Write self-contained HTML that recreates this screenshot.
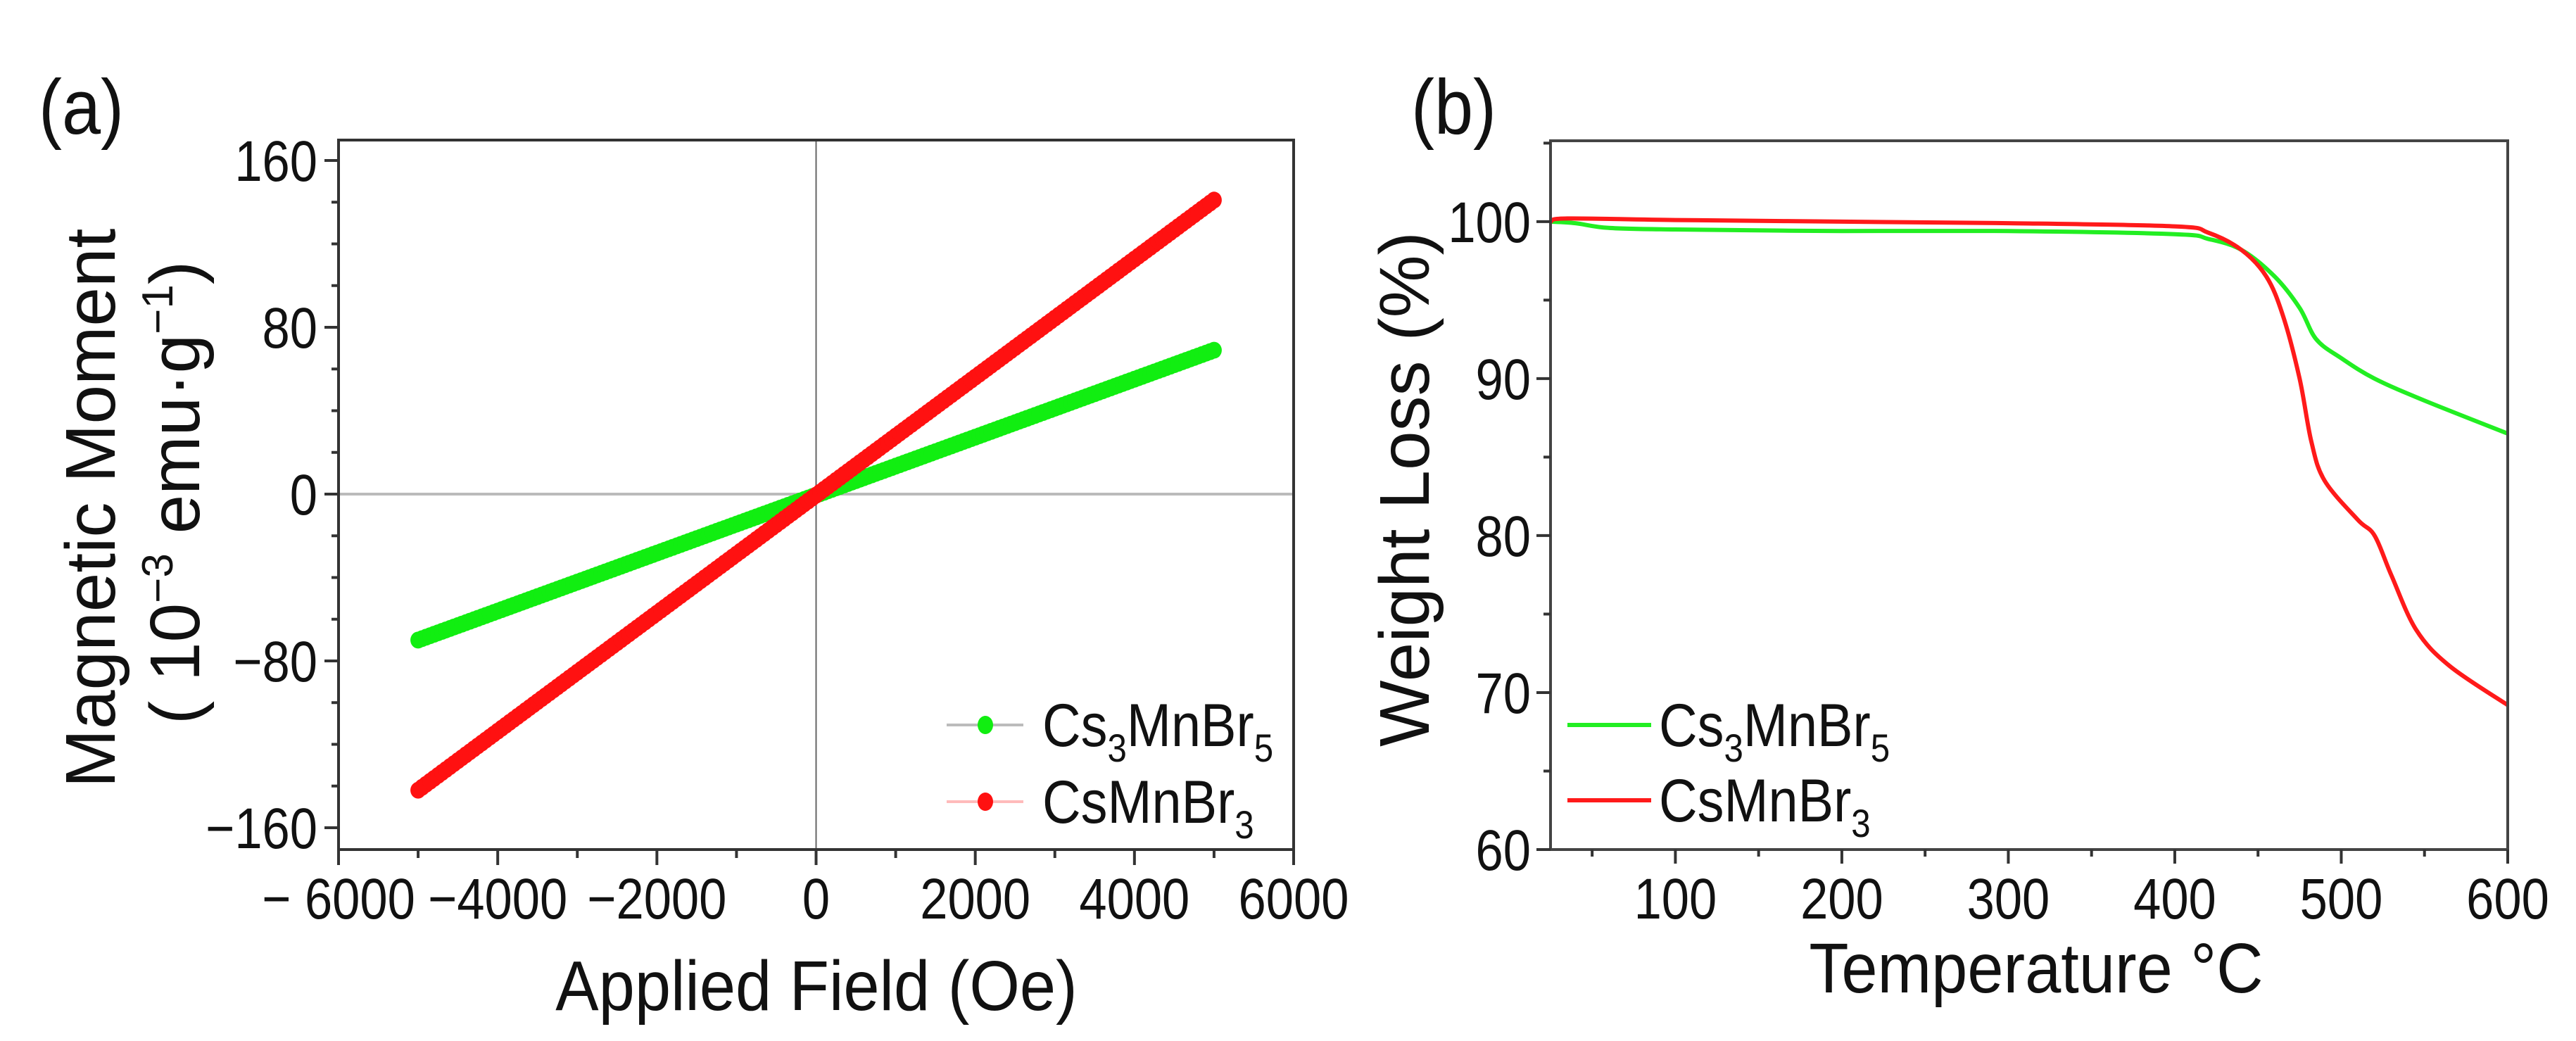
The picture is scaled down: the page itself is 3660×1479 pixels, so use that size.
<!DOCTYPE html>
<html><head><meta charset="utf-8"><style>
html,body{margin:0;padding:0;background:#fff;}
svg{display:block;font-family:"Liberation Sans",Arial,sans-serif;}
</style></head><body>
<svg id="chart" width="3660" height="1479" viewBox="0 0 3660 1479" xmlns="http://www.w3.org/2000/svg">
<g id="pa"></g>
<g id="pb"></g>
</svg>
<script>
// Panel (a) data
const aXTicks = [-6000,-4000,-2000,0,2000,4000,6000];
const aXTickLabels = ["\u2212 6000","\u22124000","\u22122000","0","2000","4000","6000"];
const aYTicks = [-160,-80,0,80,160];
const aYTickLabels = ["\u2212160","\u221280","0","80","160"];
const aFieldRange = [-5000, 5000];
const aGreenEnds = [-70, 69];
const aRedEnds = [-142, 141];
// Panel (b) data
const bTemp = [25,40,60,100,200,300,400,420,440,460,475,485,500,520,550,600];
const bGreen = [100,99.9,99.6,99.5,99.4,99.4,99.2,98.9,98.2,96.5,94.5,92.5,91.3,90,88.6,86.5];
const bTempRed = [25,35,100,200,300,400,420,440,455,465,475,482,490,510,520,530,545,565,600];
const bRed = [100,100.2,100.1,100,99.9,99.7,99.3,98.2,96.5,94,90,86,83.5,81,80,77.5,74,71.7,69.2];
const bXTicks = [100,200,300,400,500,600];
const bXTickLabels = ["100","200","300","400","500","600"];
const bYTicks = [60,70,80,90,100];
const bYTickLabels = ["60","70","80","90","100"];

const NS="http://www.w3.org/2000/svg";
function mk(parent,tag,attrs,text){const e=document.createElementNS(NS,tag);for(const k in attrs)e.setAttribute(k,attrs[k]);if(text!==undefined)e.textContent=text;parent.appendChild(e);return e;}
// condensed text helper
function T(parent,x,y,size,anchor,content,sx,rot,html){
  const t=mk(parent,'text',{x:0,y:0,'font-size':size,'text-anchor':anchor,fill:'#111','xml:space':'preserve',
    transform:'translate('+x+','+y+')'+(rot?' rotate('+rot+')':'')+' scale('+sx+',1)'});
  if(html) t.innerHTML=content; else t.textContent=content;
  return t;
}
function smooth(pts){
  let d='M'+pts[0][0].toFixed(1)+','+pts[0][1].toFixed(1);
  for(let i=0;i<pts.length-1;i++){
    const p0=pts[i-1]||pts[i],p1=pts[i],p2=pts[i+1],p3=pts[i+2]||p2;
    const c1=[p1[0]+(p2[0]-p0[0])/6,p1[1]+(p2[1]-p0[1])/6];
    const c2=[p2[0]-(p3[0]-p1[0])/6,p2[1]-(p3[1]-p1[1])/6];
    d+=' C'+c1.map(v=>v.toFixed(1))+' '+c2.map(v=>v.toFixed(1))+' '+p2.map(v=>v.toFixed(1));
  }
  return d;
}

// ---------- Panel A ----------
const pa=document.getElementById('pa');
const aL=481,aR=1838,aT=199,aB=1207;
const ax=v=>aL+(v+6000)/12000*(aR-aL);
const ay=v=>702-(v/160)*(702-228);
let e=mk(pa,'line',{x1:aL,x2:aR,y1:ay(0),y2:ay(0),stroke:'#bbb','stroke-width':4});

e=mk(pa,'line',{x1:ax(0),x2:ax(0),y1:aT,y2:aB,stroke:'#666','stroke-width':2});

function dotSeries(ends,color,name){
  const g=mk(pa,'g',{});
  
  const n=200;
  for(let i=0;i<=n;i++){
    const f=aFieldRange[0]+(aFieldRange[1]-aFieldRange[0])*i/n;
    const m=ends[0]+(ends[1]-ends[0])*i/n;
    mk(g,'ellipse',{cx:ax(f),cy:ay(m),rx:11,ry:12,fill:color});
  }
}
dotSeries(aGreenEnds,'#11ee11','series-cs3mnbr5');
dotSeries(aRedEnds,'#ff1111','series-csmnbr3');
e=mk(pa,'rect',{x:aL,y:aT,width:aR-aL,height:aB-aT,fill:'none',stroke:'#333','stroke-width':4});

aXTicks.forEach((t,i)=>{
  mk(pa,'line',{x1:ax(t),x2:ax(t),y1:aB,y2:aB+22,stroke:'#333','stroke-width':4});
  if(i<aXTicks.length-1) mk(pa,'line',{x1:ax(t+1000),x2:ax(t+1000),y1:aB,y2:aB+12,stroke:'#333','stroke-width':4});
  const tx=T(pa,ax(t),1305,82,'middle',aXTickLabels[i],0.86);
  
});
aYTicks.forEach((t,i)=>{
  mk(pa,'line',{x1:aL-20,x2:aL,y1:ay(t),y2:ay(t),stroke:'#333','stroke-width':4});
  if(i<aYTicks.length-1){for(let k=1;k<4;k++)mk(pa,'line',{x1:aL-10,x2:aL,y1:ay(t+k*20),y2:ay(t+k*20),stroke:'#333','stroke-width':4});}
  const tx=T(pa,aL-30,ay(t)+29,82,'end',aYTickLabels[i],0.86);
  
});
function legA(y,color,lineColor,html,name){
  const g=mk(pa,'g',{});
  mk(g,'line',{x1:1345,x2:1454,y1:y,y2:y,stroke:lineColor,'stroke-width':4});
  mk(g,'ellipse',{cx:1400,cy:y,rx:11,ry:13,fill:color});
  T(g,1481,y+30,86,'start',html,0.88,0,true);
}
legA(1030,'#11ee11','#bbb','Cs<tspan font-size="56" dy="22">3</tspan><tspan dy="-22">MnBr</tspan><tspan font-size="56" dy="22">5</tspan>','legend-entry-cs3mnbr5');
legA(1139,'#ff1111','#fbb','CsMnBr<tspan font-size="56" dy="22">3</tspan>','legend-entry-csmnbr3');
e=T(pa,55,190,110,'start','(a)',0.9);

e=T(pa,1160,1435,100,'middle','Applied Field (Oe)',0.92);

e=T(pa,163,722,100,'middle','Magnetic Moment',1,-90);

e=T(pa,283,700,100,'middle','( 10<tspan font-size="62" dy="-38">\u22123</tspan><tspan dy="38"> emu\u00b7g</tspan><tspan font-size="62" dy="-38">\u22121</tspan><tspan dy="38">)</tspan>',1,-90,true);


// ---------- Panel B ----------
const pb=document.getElementById('pb');
const bL=2203,bR=3563,bT=200,bB=1207;
const bx=v=>bL+(v-25)/575*(bR-bL);
const by=v=>bB-(v-60)/(105.15-60)*(bB-bT);
e=mk(pb,'path',{d:smooth(bTemp.map((x,i)=>[bx(x),by(bGreen[i])])),fill:'none',stroke:'#22ee22','stroke-width':6,'stroke-linejoin':'round'});

e=mk(pb,'path',{d:smooth(bTempRed.map((x,i)=>[bx(x),by(bRed[i])])),fill:'none',stroke:'#ff1a1a','stroke-width':6,'stroke-linejoin':'round'});

e=mk(pb,'rect',{x:bL,y:bT,width:bR-bL,height:bB-bT,fill:'none',stroke:'#444','stroke-width':4});

bXTicks.forEach((t,i)=>{
  mk(pb,'line',{x1:bx(t),x2:bx(t),y1:bB,y2:bB+20,stroke:'#333','stroke-width':4});
  mk(pb,'line',{x1:bx(t-50),x2:bx(t-50),y1:bB,y2:bB+10,stroke:'#333','stroke-width':4});
  const tx=T(pb,bx(t),1305,82,'middle',bXTickLabels[i],0.86);
  
});
bYTicks.forEach((t,i)=>{
  mk(pb,'line',{x1:bL-20,x2:bL,y1:by(t),y2:by(t),stroke:'#333','stroke-width':4});
  mk(pb,'line',{x1:bL-10,x2:bL,y1:by(t+5),y2:by(t+5),stroke:'#333','stroke-width':4});
  const tx=T(pb,bL-28,by(t)+29,82,'end',bYTickLabels[i],0.86);
  
});
function legB(y,color,html,name){
  const g=mk(pb,'g',{});
  mk(g,'line',{x1:2227,x2:2346,y1:y,y2:y,stroke:color,'stroke-width':6});
  T(g,2357,y+30,86,'start',html,0.88,0,true);
}
legB(1030,'#22ee22','Cs<tspan font-size="56" dy="22">3</tspan><tspan dy="-22">MnBr</tspan><tspan font-size="56" dy="22">5</tspan>','legend-entry-cs3mnbr5-b');
legB(1137,'#ff1a1a','CsMnBr<tspan font-size="56" dy="22">3</tspan>','legend-entry-csmnbr3-b');
e=T(pb,2005,190,110,'start','(b)',0.9);

e=T(pb,2893,1410,100,'middle','Temperature \u00b0C',0.92);

e=T(pb,2030,695,100,'middle','Weight Loss  (%)',1,-90);

</script>
</body></html>
